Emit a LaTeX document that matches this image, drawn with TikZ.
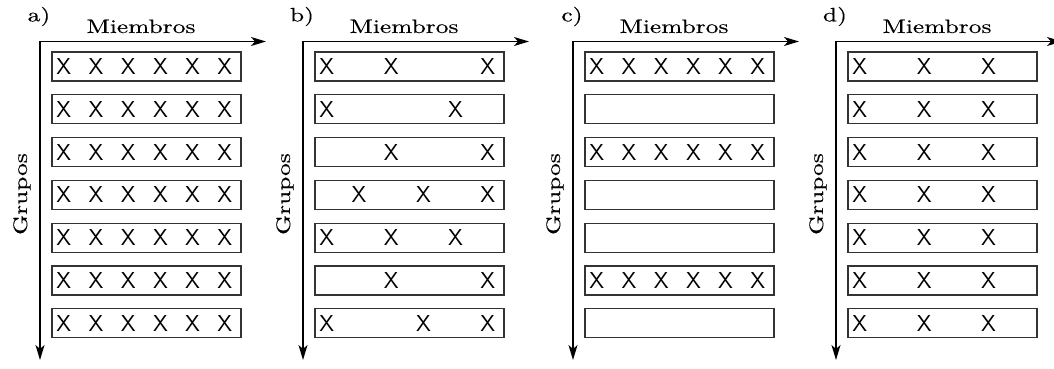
\documentclass[tikz,border=0pt]{standalone}
\usepackage{graphicx}
\usetikzlibrary{calc,arrows.meta}
\font\lmten="[lmroman10-regular]:mapping=tex-text;embolden=0.3" at 10pt
\newcommand\rt[1]{\scalebox{1.27}[0.97]{\lmten #1}}
\tikzset{
  axis/.style={line width=0.75pt,-{Stealth[length=7.5pt,width=4.5pt,inset=2pt]}},
  grp/.style={draw=black!80,line width=0.65pt,minimum width=94.5pt,minimum height=14.5pt,inner sep=0pt},
  xm/.style={font=\sffamily\fontsize{11.5}{12}\selectfont,inner sep=0pt},
  lbl/.style={inner sep=0pt}
}
\newcommand\panel[2]{%
  \coordinate (#1-o) at (#2,41.5);
  \coordinate (#1-r) at (#2+226,41.5);
  \coordinate (#1-d) at (#2,360);
  \draw[axis] (#1-o) -- (#1-r);
  \draw[axis] (#1-o) -- (#1-d);
  \node[lbl] (#1-lab) at (#2-1,16.5) {\rt{#1)}};
  \node[lbl,anchor=base] (#1-m) at (#2+101,33) {\rt{Miembros}};
  \node[lbl,rotate=90] (#1-g) at (#2-18,194) {\rt{Grupos}};
  \foreach \r in {1,...,7} {\node[grp] (#1-b\r) at (#2+106.5,66.5+42.8*\r-42.8) {};}
}
\newcommand\xs[3]{%
  \foreach \c in {#3} {\node[xm] (#1-x#2-\c) at ($(#1-b#2.west)+(12.5+32.2*\c-32.2,0)$) {X};}
}
\begin{document}
\begin{tikzpicture}[x=0.5pt,y=-0.5pt]
\useasboundingbox (0,0) rectangle (1054,369);
\begin{scope}
\clip (0,0) rectangle (1054,369);
\panel{a}{40}
\panel{b}{303}
\panel{c}{573}
\panel{d}{836}
\foreach \r in {1,...,7} {\xs{a}{\r}{1,2,3,4,5,6}}
\xs{b}{1}{1,3,6}
\xs{b}{2}{1,5}
\xs{b}{3}{3,6}
\xs{b}{4}{2,4,6}
\xs{b}{5}{1,3,5}
\xs{b}{6}{3,6}
\xs{b}{7}{1,4,6}
\xs{c}{1}{1,2,3,4,5,6}
\xs{c}{3}{1,2,3,4,5,6}
\xs{c}{6}{1,2,3,4,5,6}
\foreach \r in {1,...,7} {\xs{d}{\r}{1,3,5}}
\end{scope}
\end{tikzpicture}
\end{document}
